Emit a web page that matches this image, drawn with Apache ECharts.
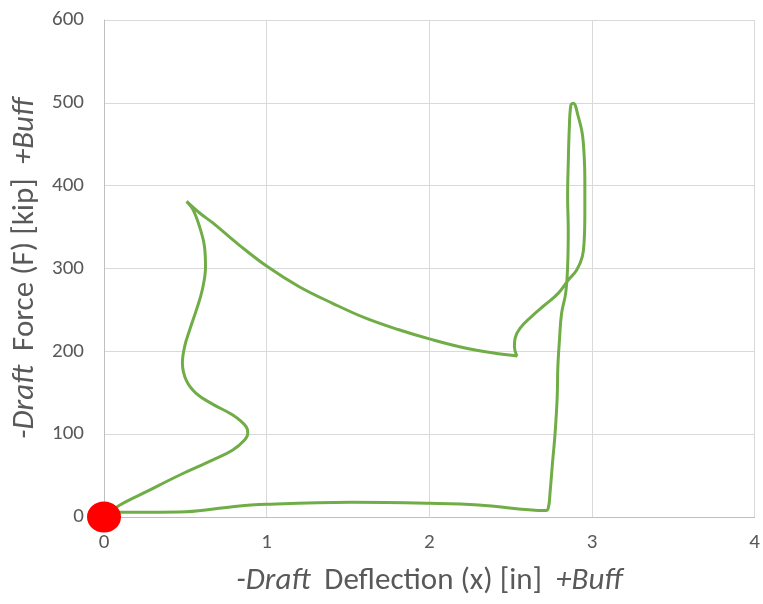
<!DOCTYPE html>
<html>
<head>
<meta charset="utf-8">
<script src="https://cdn.jsdelivr.net/npm/echarts@6/dist/echarts.min.js"></script>
<style>
  html, body { margin: 0; padding: 0; background: #fff; }
  #chart { width: 763px; height: 604px; }
</style>
</head>
<body>
<div id="chart"></div>
<script>
// deflection (in) and force (kip) along the loop
const deflection = [
  0, 0.098, 0.261, 0.466, 0.67, 0.792, 0.864, 0.884,
  0.874, 0.792, 0.67, 0.568, 0.506, 0.482, 0.496, 0.527, 0.568, 0.604, 0.624, 0.618, 0.588, 0.547, 0.508,
  0.588, 0.669, 0.833, 1.006, 1.2, 1.405, 1.609, 1.813, 2.0, 2.22, 2.426, 2.538,
  2.523, 2.527, 2.557, 2.628, 2.71, 2.792, 2.854, 2.905, 2.94, 2.952, 2.956, 2.956, 2.952, 2.94, 2.916, 2.885,
  2.87, 2.86, 2.854, 2.85, 2.854, 2.85, 2.838, 2.813, 2.8, 2.79, 2.786, 2.773, 2.757, 2.742, 2.733, 2.718,
  2.303, 2.0, 1.52, 1.0, 0.79, 0.506, 0.098, 0.02
];
const force = [
  0, 14.5, 30.6, 50.7, 69, 81, 93, 101,
  109, 123, 136, 149, 165, 186, 206, 226, 250, 274, 302, 326, 350, 371, 381,
  367, 355, 328, 302, 278, 258, 240, 226, 215, 204, 197, 194.5,
  205.6, 215.7, 227.8, 242, 256, 270, 286, 298, 314, 334, 367, 407, 435, 463, 483, 499.6,
  497, 467, 427, 387, 346, 302, 270, 246, 214, 181, 145, 101, 65, 29, 12.5, 7.7,
  14.5, 16.5, 17.7, 15.3, 12.5, 6.4, 5.6, 5
];
const origin = [[0, 0]];
const xTicks = { min: 0, max: 4, step: 1 };
const yTicks = { min: 0, max: 600, step: 100 };

const loop = deflection.map(function (x, i) { return [x, force[i]]; });

const font = 'Carlito, Lato, "Liberation Sans", sans-serif';
const grey = '#595959';
const titleSize = 31;

const chart = echarts.init(document.getElementById('chart'));
chart.setOption({
  animation: false,
  textStyle: { fontFamily: font },
  grid: { left: 104, right: 6, top: 20, bottom: 87 },
  xAxis: {
    type: 'value',
    min: xTicks.min, max: xTicks.max, interval: xTicks.step,
    axisLine: { show: true, lineStyle: { color: '#bfbfbf', width: 1 } },
    axisTick: { show: false },
    axisLabel: { color: grey, fontSize: 21, margin: 15, fontFamily: font },
    splitLine: { show: true, lineStyle: { color: '#d9d9d9', width: 1 } },
    name: '{i|-Draft}  {t|Deflection (x) [in]}  {i|+Buff}',
    nameLocation: 'middle',
    nameGap: 49,
    nameTextStyle: {
      color: grey, fontSize: titleSize, fontFamily: font,
      rich: {
        i: { fontStyle: 'italic', color: grey, fontSize: titleSize, fontFamily: font },
        t: { color: grey, fontSize: titleSize, fontFamily: font }
      }
    }
  },
  yAxis: {
    type: 'value',
    min: yTicks.min, max: yTicks.max, interval: yTicks.step,
    axisLine: { show: true, lineStyle: { color: '#bfbfbf', width: 1 } },
    axisTick: { show: false },
    axisLabel: { color: grey, fontSize: 21, margin: 20, fontFamily: font },
    splitLine: { show: true, lineStyle: { color: '#d9d9d9', width: 1 } },
    name: '{i|-Draft}  {t|Force (F) [kip]}  {i|+Buff}',
    nameLocation: 'middle',
    nameGap: 60,
    nameTextStyle: {
      color: grey, fontSize: titleSize, fontFamily: font,
      rich: {
        i: { fontStyle: 'italic', color: grey, fontSize: titleSize, fontFamily: font },
        t: { color: grey, fontSize: titleSize, fontFamily: font }
      }
    }
  },
  series: [
    {
      type: 'line',
      data: loop,
      smooth: 0.4,
      symbol: 'none',
      clip: false,
      lineStyle: { color: '#70ad47', width: 3 }
    },
    {
      type: 'scatter',
      data: origin,
      symbol: 'circle',
      symbolSize: [34, 31],
      clip: false,
      itemStyle: { color: '#ff0000', opacity: 1 },
      z: 5
    }
  ]
});
</script>
</body>
</html>
